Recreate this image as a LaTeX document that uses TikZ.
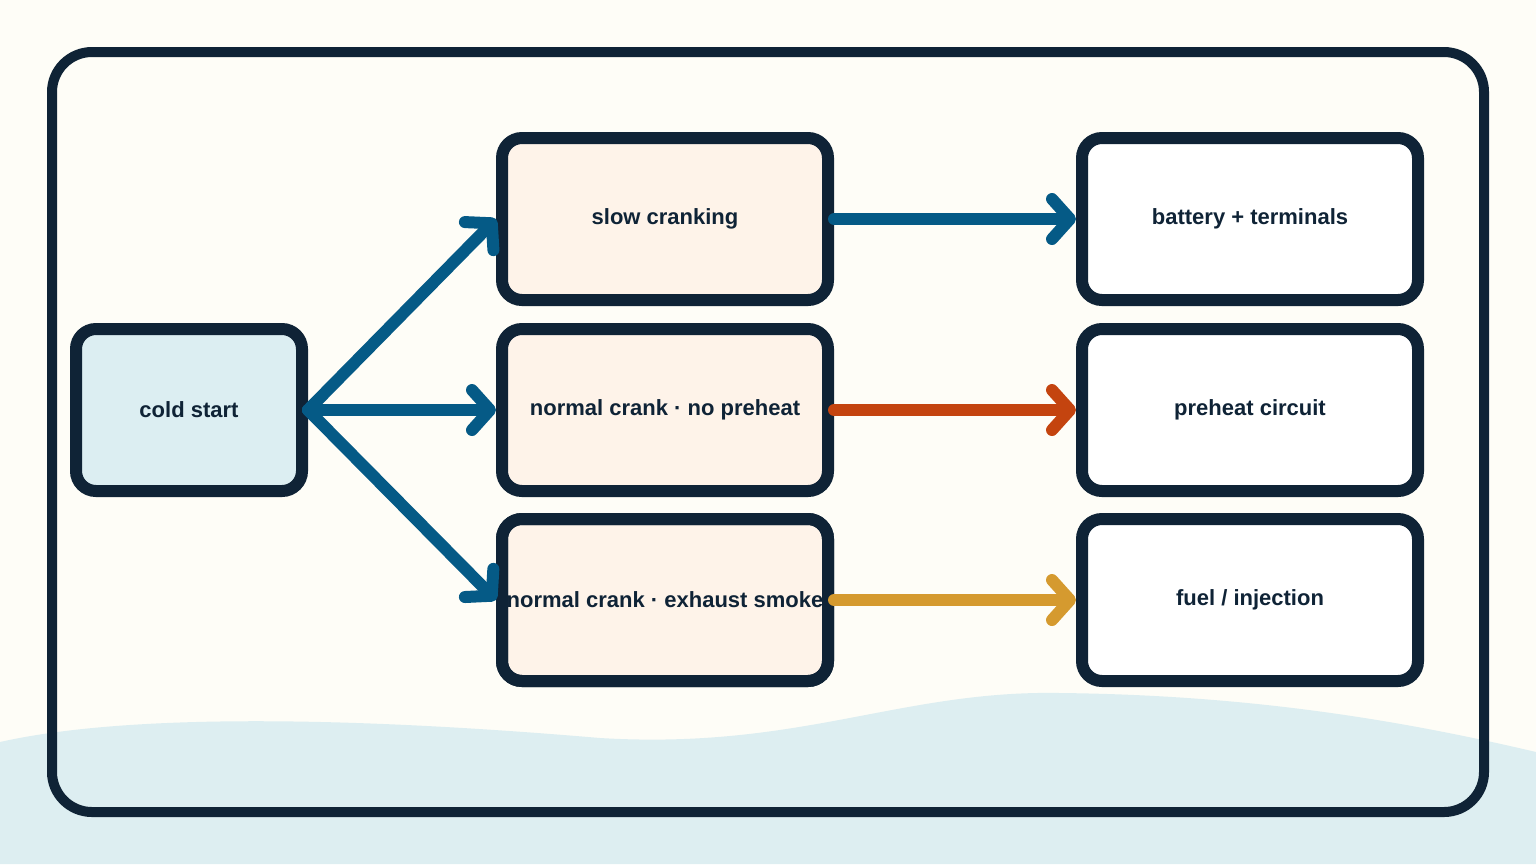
\documentclass[tikz,border=0pt]{standalone}
\usepackage{fontspec}
\setmainfont{Liberation Sans}
\usetikzlibrary{arrows.meta}
\definecolor{ink}{HTML}{0F2336}
\definecolor{paper}{HTML}{FEFDF7}
\definecolor{wave}{HTML}{DDEEF1}
\definecolor{coldfill}{HTML}{DCEEF2}
\definecolor{symfill}{HTML}{FEF3E9}
\definecolor{flowblue}{HTML}{055A86}
\definecolor{flowred}{HTML}{C4440F}
\definecolor{flowgold}{HTML}{D59A2F}
\tikzset{
  box/.style={draw=ink, line width=6pt, rounded corners=10pt, minimum height=81pt,
    font=\bfseries\fontsize{11}{13}\selectfont, text=ink},
  flow/.style={line width=6pt, line cap=round,
    -{Straight Barb[length=9pt,width=20pt,line width=6pt,round]}}
}
\begin{document}
\begin{tikzpicture}[x=0.5pt,y=-0.5pt]
\fill[paper] (0,0) rectangle (1536,864);
\useasboundingbox (0,0) rectangle (1536,864);
\fill[wave] (0,742) .. controls (120,715) and (330,715) .. (600,738)
  .. controls (800,750) and (900,690) .. (1060,693)
  .. controls (1250,695) and (1400,720) .. (1536,752) -- (1536,864) -- (0,864) -- cycle;
\draw[ink, line width=5pt, rounded corners=20pt] (52,52) rectangle (1484,812);
% start
\node[box, fill=coldfill, minimum width=113pt] (cold) at (189,410) {cold start};
% symptoms
\node[box, fill=symfill, minimum width=163pt] (slow) at (665,219) {slow cranking};
\node[box, fill=symfill, minimum width=163pt] (nopre) at (665,410) {normal crank · no preheat};
\node[box, fill=symfill, minimum width=163pt] (smoke) at (665,600) {};
\begin{scope}
  \clip (508,524) rectangle (822,676);
  \node[font=\bfseries\fontsize{11}{13}\selectfont, text=ink] at (665,600) {normal crank · exhaust smoke};
\end{scope}
\node[box, minimum width=163pt] at (665,600) {};
% causes
\node[box, fill=white, minimum width=168pt] (batt) at (1250,219) {battery + terminals};
\node[box, fill=white, minimum width=168pt] (heat) at (1250,410) {preheat circuit};
\node[box, fill=white, minimum width=168pt] (fuel) at (1250,600) {fuel / injection};
% connectors
\draw[flow, flowblue] (cold.east) -- (slow.west);
\draw[flow, flowblue] (cold.east) -- (nopre.west);
\draw[flow, flowblue] (cold.east) -- (smoke.west);
\draw[flow, flowblue] (slow.east) -- (batt.west);
\draw[flow, flowred] (nopre.east) -- (heat.west);
\draw[flow, flowgold] (smoke.east) -- (fuel.west);
\end{tikzpicture}
\end{document}
